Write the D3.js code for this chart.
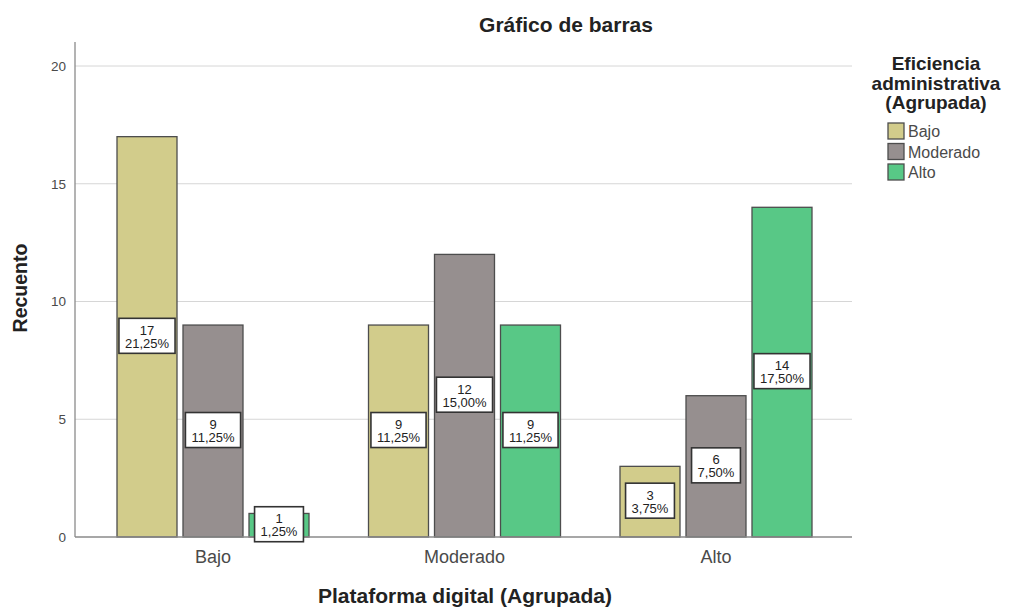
<!DOCTYPE html>
<html>
<head>
<meta charset="utf-8">
<script src="https://cdn.jsdelivr.net/npm/d3@7"></script>
<style>
  html, body { margin: 0; padding: 0; background: #fff; }
  svg { display: block; font-family: "Liberation Sans", Arial, sans-serif; }
</style>
</head>
<body>
<svg id="chart" width="1014" height="607"></svg>
<script>
// Counts of "Eficiencia administrativa" (series) within each level of "Plataforma digital" (groups)
const groups = ["Bajo", "Moderado", "Alto"];
const series = ["Bajo", "Moderado", "Alto"];
// one array per series, ordered by group
const countsBajo = [17, 9, 3];
const countsModerado = [9, 12, 6];
const countsAlto = [1, 9, 14];
const pctBajo = ["21,25%", "11,25%", "3,75%"];
const pctModerado = ["11,25%", "15,00%", "7,50%"];
const pctAlto = ["1,25%", "11,25%", "17,50%"];
const yTicks = [0, 5, 10, 15, 20];
const colors = ["#d2cc8b", "#968f8f", "#58c886"];

const seriesValues = [countsBajo, countsModerado, countsAlto];
const seriesPct = [pctBajo, pctModerado, pctAlto];

const svg = d3.select("#chart");
const plot = { left: 75, right: 852, top: 42, bottom: 537 };

const y = d3.scaleLinear().domain([0, 20]).range([plot.bottom, 66]);
const x0 = d3.scaleBand().domain(groups).range([91.85, 837.15])
  .paddingInner(0.23658).paddingOuter(0.1);
const x1 = d3.scaleBand().domain(series).range([0, x0.bandwidth()])
  .paddingInner(6 / 66).paddingOuter(0);

// Gridlines
svg.append("g")
  .selectAll("line")
  .data(yTicks.filter(d => d > 0))
  .join("line")
  .attr("x1", plot.left).attr("x2", plot.right)
  .attr("y1", d => y(d)).attr("y2", d => y(d))
  .attr("stroke", "#d6d6d6").attr("stroke-width", 1);

// Y axis
const yAxis = svg.append("g")
  .attr("transform", `translate(${plot.left},0)`)
  .call(d3.axisLeft(y).tickValues(yTicks).tickSize(0).tickPadding(9));
yAxis.select(".domain").remove();
yAxis.selectAll("text")
  .attr("fill", "#4a4a4a")
  .style("font-size", "13.5px")
  .style("font-family", "Liberation Sans, Arial, sans-serif");
svg.append("line")
  .attr("x1", plot.left).attr("x2", plot.left)
  .attr("y1", plot.top).attr("y2", plot.bottom)
  .attr("stroke", "#8a8a8a").attr("stroke-width", 1.3);

// Bars
const barData = [];
groups.forEach((g, gi) => {
  series.forEach((s, si) => {
    barData.push({ group: g, key: s, si, value: seriesValues[si][gi], pct: seriesPct[si][gi] });
  });
});

svg.append("g")
  .selectAll("rect")
  .data(barData)
  .join("rect")
  .attr("x", d => x0(d.group) + x1(d.key))
  .attr("y", d => y(d.value))
  .attr("width", x1.bandwidth())
  .attr("height", d => y(0) - y(d.value))
  .attr("fill", d => colors[d.si])
  .attr("stroke", "#4d4d4d")
  .attr("stroke-width", 1.3);

// X axis baseline
svg.append("line")
  .attr("x1", plot.left).attr("x2", plot.right)
  .attr("y1", plot.bottom).attr("y2", plot.bottom)
  .attr("stroke", "#8a8a8a").attr("stroke-width", 1.3);

// Value labels: count and percentage in a framed box at half bar height
const labels = svg.append("g");
barData.forEach(d => {
  const cx = x0(d.group) + x1(d.key) + x1.bandwidth() / 2;
  const cy = y(d.value / 2);
  const g = labels.append("g");
  const box = g.append("rect");
  const t1 = g.append("text").attr("x", cx).attr("y", cy - 2)
    .attr("text-anchor", "middle").style("font-size", "13px").attr("fill", "#222").text(d.value);
  const t2 = g.append("text").attr("x", cx).attr("y", cy + 11)
    .attr("text-anchor", "middle").style("font-size", "13px").attr("fill", "#222").text(d.pct);
  const w = Math.max(t1.node().getComputedTextLength(), t2.node().getComputedTextLength()) + 12;
  const h = 35;
  box.attr("x", cx - w / 2).attr("y", cy - h / 2 - 1)
    .attr("width", w).attr("height", h)
    .attr("fill", "#fff").attr("stroke", "#333").attr("stroke-width", 1.6);
});

// X tick labels
svg.append("g")
  .selectAll("text")
  .data(groups)
  .join("text")
  .attr("x", d => x0(d) + x0.bandwidth() / 2)
  .attr("y", 563)
  .attr("text-anchor", "middle")
  .attr("fill", "#4a4a4a")
  .style("font-size", "18px")
  .text(d => d);

// Titles
svg.append("text")
  .attr("x", 566).attr("y", 32)
  .attr("text-anchor", "middle")
  .style("font-size", "21px").style("font-weight", "bold").attr("fill", "#222")
  .text("Gráfico de barras");

svg.append("text")
  .attr("transform", "translate(27,288) rotate(-90)")
  .attr("text-anchor", "middle")
  .style("font-size", "19.5px").style("font-weight", "bold").attr("fill", "#222")
  .text("Recuento");

svg.append("text")
  .attr("x", 465).attr("y", 603)
  .attr("text-anchor", "middle")
  .style("font-size", "21px").style("font-weight", "bold").attr("fill", "#222")
  .text("Plataforma digital (Agrupada)");

// Legend
const legend = svg.append("g");
const legendTitle = ["Eficiencia", "administrativa", "(Agrupada)"];
legend.selectAll("text.lt")
  .data(legendTitle)
  .join("text")
  .attr("class", "lt")
  .attr("x", 936)
  .attr("y", (d, i) => 70 + i * 19.5)
  .attr("text-anchor", "middle")
  .style("font-size", "19px").style("font-weight", "bold").attr("fill", "#222")
  .text(d => d);

const items = legend.selectAll("g.item")
  .data(series)
  .join("g")
  .attr("class", "item")
  .attr("transform", (d, i) => `translate(888,${131 + i * 20.5})`);
items.append("rect")
  .attr("x", 0).attr("y", -8).attr("width", 16).attr("height", 16)
  .attr("fill", (d, i) => colors[i])
  .attr("stroke", "#4d4d4d").attr("stroke-width", 1.3);
items.append("text")
  .attr("x", 20).attr("y", 6)
  .style("font-size", "16px").attr("fill", "#4a4a4a")
  .text(d => d);
</script>
</body>
</html>
